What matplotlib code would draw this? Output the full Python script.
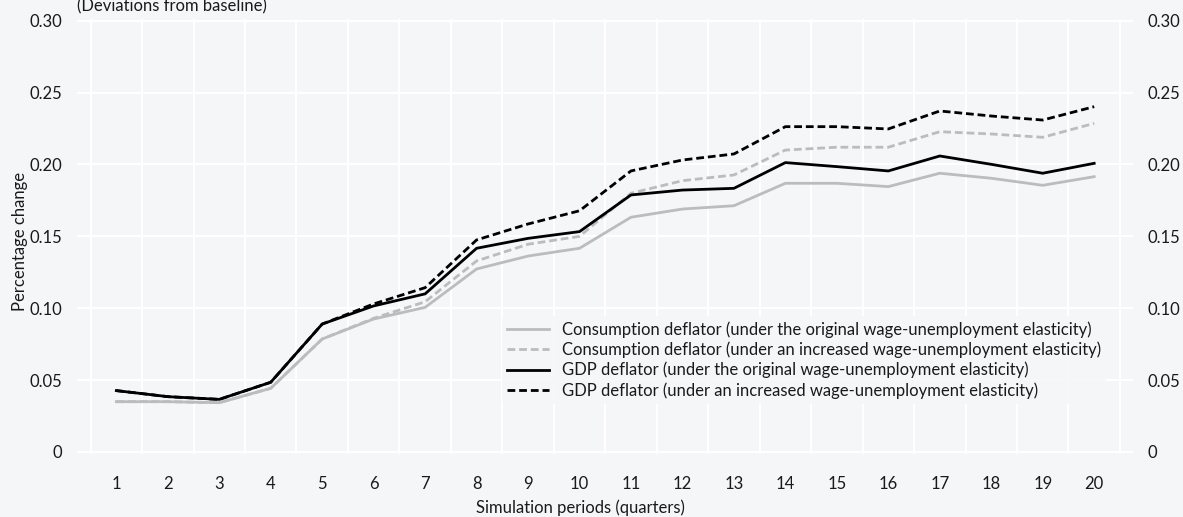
import matplotlib
matplotlib.use('Agg')
import matplotlib.pyplot as plt
from matplotlib.ticker import FixedLocator, FuncFormatter

####################################################################################################

periods = list(range(1, 21))

consumption_original = [0.035, 0.035, 0.0343, 0.0443, 0.0786, 0.0925, 0.1006, 0.1273, 0.1363, 0.1417,
                        0.1633, 0.169, 0.1713, 0.1869, 0.1869, 0.1846, 0.1939, 0.1904, 0.1855, 0.1915]
consumption_increased = [0.035, 0.035, 0.0343, 0.0443, 0.0786, 0.093, 0.1045, 0.1329, 0.1445, 0.150,
                         0.180, 0.1887, 0.1927, 0.210, 0.212, 0.212, 0.2228, 0.2212, 0.2189, 0.2286]
gdp_original = [0.0427, 0.0385, 0.0366, 0.0485, 0.089, 0.1016, 0.110, 0.1417, 0.1486, 0.1533,
                0.1788, 0.1822, 0.1834, 0.2013, 0.1985, 0.1955, 0.2059, 0.2001, 0.1939, 0.2008]
gdp_increased = [0.0427, 0.0385, 0.0366, 0.0485, 0.089, 0.103, 0.1143, 0.1475, 0.1586, 0.1678,
                 0.1955, 0.2031, 0.2073, 0.2263, 0.2263, 0.2247, 0.2372, 0.2337, 0.2309, 0.2402]

labels = ['Consumption deflator (under the original wage-unemployment elasticity)',
          'Consumption deflator (under an increased wage-unemployment elasticity)',
          'GDP deflator (under the original wage-unemployment elasticity)',
          'GDP deflator (under an increased wage-unemployment elasticity)']

y_ticks = [0, 0.05, 0.10, 0.15, 0.20, 0.25, 0.30]

####################################################################################################

background = '#f5f6f8'
gray = '#bcbcbc'
ink = '#1a1a1a'
fs = 12

plt.rcParams['font.family'] = ['Lato', 'DejaVu Sans']

W, H = 1183, 517
figure = plt.figure(figsize=(W / 100, H / 100), dpi=100, facecolor=background)

# axes placed in pixels: x from 76.7 to 1133.3, y data 0 -> 452 px, 0.30 -> 20.7 px
pad = 0.0015
y0_px, y1_px = 452.0, 20.7
px_per_unit = (y0_px - y1_px) / 0.30
top_px = y1_px - pad * px_per_unit
bottom_px = y0_px + pad * px_per_unit
left_px, right_px = 76.7, 1133.3
ax = figure.add_axes([left_px / W, 1 - bottom_px / H,
                      (right_px - left_px) / W, (bottom_px - top_px) / H])
ax.set_facecolor(background)

dash = (0, (2.8, 1.4))
ax.plot(periods, consumption_original, color=gray, lw=2.0, label=labels[0], zorder=3)
ax.plot(periods, consumption_increased, color=gray, lw=2.0, ls=dash, label=labels[1], zorder=3)
ax.plot(periods, gdp_original, color='black', lw=2.0, label=labels[2], zorder=4)
ax.plot(periods, gdp_increased, color='black', lw=2.0, ls=dash, label=labels[3], zorder=4)

ax.set_xlim(0.23, 20.76)
ax.set_ylim(-pad, 0.30 + pad)

ax.xaxis.set_major_locator(FixedLocator(periods))
ax.xaxis.set_minor_locator(FixedLocator([p + 0.5 for p in range(0, 21)]))
ax.yaxis.set_major_locator(FixedLocator(y_ticks))
fmt = FuncFormatter(lambda v, pos: '0' if abs(v) < 1e-9 else '%.2f' % v)
ax.yaxis.set_major_formatter(fmt)

ax.grid(False)
ax.grid(True, which='minor', axis='x', color='white', lw=1.6)
ax.grid(True, which='major', axis='y', color='white', lw=1.6)
ax.set_axisbelow(True)

for side in ('top', 'right', 'bottom', 'left'):
    ax.spines[side].set_visible(False)

ax.tick_params(axis='x', which='both', length=0, pad=15.5, labelsize=fs, colors=ink)
ax.tick_params(axis='y', which='both', length=0, labelsize=fs, colors=ink,
               left=True, right=True, labelleft=True, labelright=True, pad=10.5)

legend = ax.legend(loc='upper left', bbox_to_anchor=(0.4025, 0.317), frameon=True,
                   fontsize=fs, handlelength=2.5, handletextpad=0.78, labelspacing=0.23,
                   borderpad=0.3, borderaxespad=0)
legend.get_frame().set_facecolor(background)
legend.get_frame().set_edgecolor('none')
legend.get_frame().set_alpha(0.8)
for text in legend.get_texts():
    text.set_color(ink)

figure.text(76.7 / W, 1 - 11 / H, '(Deviations from baseline)', fontsize=fs,
            ha='left', va='baseline', color=ink)
figure.text(20.5 / W, 1 - 241 / H, 'Percentage change', fontsize=fs, rotation=90,
            ha='center', va='center', color=ink)
figure.text(580 / W, 1 - 508 / H, 'Simulation periods (quarters)', fontsize=fs,
            ha='center', va='center', color=ink)

figure.savefig('out.png', dpi=100, facecolor=background)
